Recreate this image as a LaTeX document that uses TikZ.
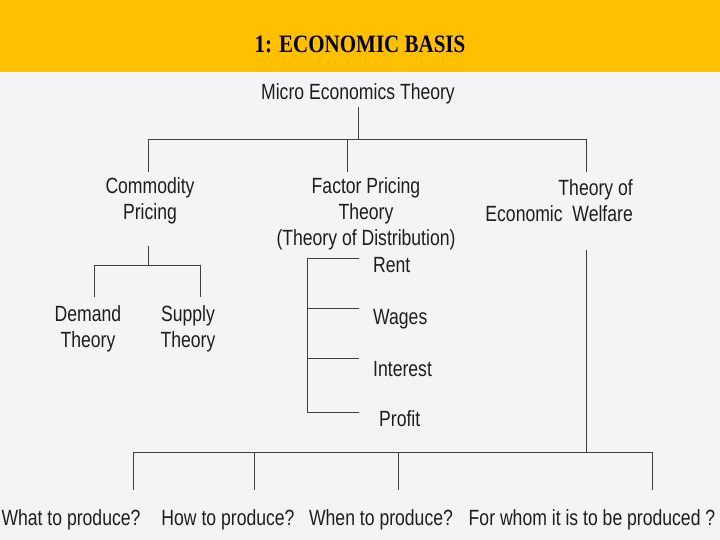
\documentclass[tikz,border=0pt]{standalone}
\usepackage{fontspec}
\setmainfont{Liberation Sans}[FakeStretch=0.8]
\newfontfamily\titlefont{Liberation Serif}[FakeStretch=0.84]
\definecolor{headyellow}{RGB}{255,192,0}
\definecolor{scanpaper}{RGB}{244,244,246}
\definecolor{ink}{RGB}{30,30,30}
\begin{document}
\begin{tikzpicture}[x=1pt,y=-1pt]
\tikzstyle{lbl} = [inner sep=3, text=ink, align=center,
						   font=\fontsize{22}{26}\selectfont]
\tikzstyle{wire} = [draw=ink!85, line width=1]
\useasboundingbox (0,0) rectangle (720,540);
\fill [scanpaper] (0,0) rectangle (720,540);
\fill [headyellow] (0,0) rectangle (720,72);
\node [inner sep=0, font=\titlefont\bfseries\fontsize{25}{30}\selectfont] (title) at (360,44) {1: ECONOMIC BASIS};
\node [lbl] (micro) at (358,94) {Micro Economics Theory};
\node [lbl] (comm) at (150,201) {Commodity\\Pricing};
\node [lbl] (fact) at (366,214) {Factor Pricing\\Theory\\(Theory of Distribution)};
\node [lbl, align=right, anchor=east] (welf) at (636,201) {Theory of\\Economic\ \ Welfare};
\node [lbl] (dem) at (88,329) {Demand\\Theory};
\node [lbl] (sup) at (188,329) {Supply\\Theory};
\node [lbl, anchor=base west] (rent) at (370,272) {Rent};
\node [lbl, anchor=base west] (wages) at (370,324) {Wages};
\node [lbl, anchor=base west] (inter) at (370,376) {Interest};
\node [lbl, anchor=base west] (prof) at (376,426) {Profit};
\node [lbl, anchor=base] (what) at (71,525) {What to produce?};
\node [lbl, anchor=base] (how) at (228,525) {How to produce?};
\node [lbl, anchor=base] (when) at (381,525) {When to produce?};
\node [lbl, anchor=base] (whom) at (592,525) {For whom it is to be produced ?};
\coordinate (b1) at (148,140);
\coordinate (b2) at (347,140);
\coordinate (b3) at (586,140);
\coordinate (c1) at (148,172);
\coordinate (c2) at (347,172);
\coordinate (c3) at (586,172);
\draw [wire] (micro.south) -- (micro.south |- b1);
\draw [wire] (c1) -- (b1) -- (b3) -- (c3);
\draw [wire] (b2) -- (c2);
\coordinate (d0) at (148,246);
\coordinate (d1) at (94,265);
\coordinate (d2) at (200,265);
\coordinate (e1) at (94,297);
\coordinate (e2) at (200,297);
\draw [wire] (d0) -- (d0 |- d1);
\draw [wire] (e1) -- (d1) -- (d2) -- (e2);
\coordinate (f0) at (307,258);
\coordinate (f1) at (307,412);
\coordinate (g1) at (359,258);
\coordinate (g2) at (359,308);
\coordinate (g3) at (359,358);
\coordinate (g4) at (359,412);
\draw [wire] (f0) -- (f1);
\draw [wire] (f0) -- (g1);
\draw [wire] (f0 |- g2) -- (g2);
\draw [wire] (f0 |- g3) -- (g3);
\draw [wire] (f1) -- (g4);
\coordinate (w0) at (586,250);
\coordinate (h1) at (133,452);
\coordinate (h2) at (254,452);
\coordinate (h3) at (398,452);
\coordinate (h4) at (652,452);
\draw [wire] (w0) -- (w0 |- h1);
\draw [wire] (h1) -- (h4);
\coordinate (q1) at (133,490);
\coordinate (q2) at (254,490);
\coordinate (q3) at (398,490);
\coordinate (q4) at (652,490);
\draw [wire] (h1) -- (q1);
\draw [wire] (h2) -- (q2);
\draw [wire] (h3) -- (q3);
\draw [wire] (h4) -- (q4);
\end{tikzpicture}
\end{document}
